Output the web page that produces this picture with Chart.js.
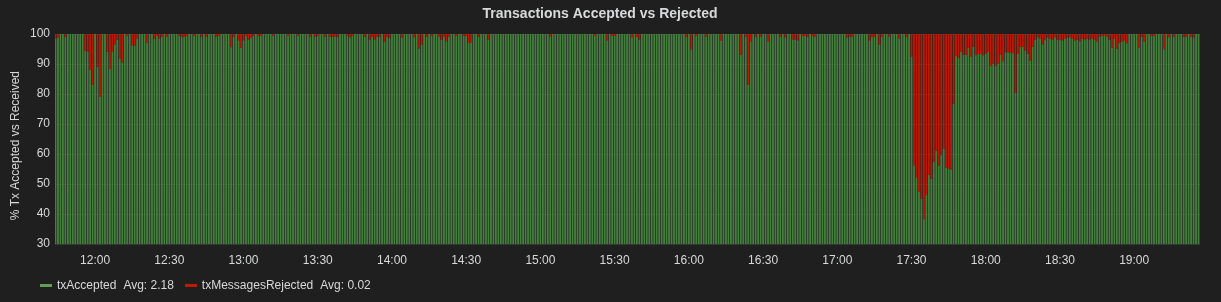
<!DOCTYPE html>
<html>
<head>
<meta charset="utf-8">
<title>Transactions Accepted vs Rejected</title>
<script src="https://cdn.jsdelivr.net/npm/chart.js@4.4.1/dist/chart.umd.min.js"></script>
<style>
  html, body { margin: 0; padding: 0; background: #1f1f1f; }
  #wrap { position: relative; width: 1221px; height: 302px; }
  #txChart { display: block; }
  .legend { position: absolute; left: 40px; top: 278px; display: flex; align-items: center;
    font: 12px "Liberation Sans", Arial, sans-serif; line-height: 14px; color: #d8d9da; white-space: nowrap; }
  .legend .icon { width: 12px; height: 3px; margin-right: 5px; }
  .legend .avg { margin-left: 7px; margin-right: 11px; }
</style>
</head>
<body>
<div id="wrap">
  <canvas id="txChart" width="1221" height="302"></canvas>
  <div class="legend" id="legend"></div>
</div>
<script>
// one bar per minute, first bar at 11:44
const startMinute = 11 * 60 + 44;

const tickLabels = ['12:00', '12:30', '13:00', '13:30', '14:00', '14:30', '15:00', '15:30',
  '16:00', '16:30', '17:00', '17:30', '18:00', '18:30', '19:00'];

const seriesNames = ['txAccepted', 'txMessagesRejected'];
const seriesAvg = ['2.18', '0.02'];
const seriesColors = ['#447f3d', '#bd1a04'];
const legendColors = ['#629e51', '#bf1b00'];

// % of received transactions that were accepted
const acceptedPct = [
  98.5,98.7,100,100,99.0,100,100,100,100,100,100,100,94.3,94.0,88.0,83.0,100,89.0,79.0,100,
  100,94.0,88.3,94.2,96.5,98.2,91.8,90.5,100,99.3,100,96.2,96.2,98.4,100,100,100,97.0,100,100,
  98.4,99.3,98.4,99.1,100,99.1,100,100,100,100,99.3,99.1,99.0,99.3,100,100,99.3,100,100,99.1,
  100,99.1,100,100,100,99.1,99.3,100,100,100,100,95.6,99.1,100,97.8,95.3,97.8,99.3,98.2,98.7,
  99.3,100,99.3,99.3,100,100,100,100,99.3,100,100,100,100,100,99.3,100,100,100,99.4,100,
  100,100,100,99.1,100,99.1,99.3,100,100,99.1,100,99.1,99.1,99.1,99.1,100,100,100,99.3,98.8,
  99.3,100,100,100,100,99.1,100,98.2,99.1,98.2,99.1,99.1,100,97.4,99.1,98.7,100,100,100,100,
  98.7,100,100,100,100,98.9,100,95.2,96.4,100,99.1,100,99.3,100,100,99.1,98.0,99.1,97.6,99.1,
  100,100,99.3,100,100,99.3,99.3,97.0,97.0,100,100,99.1,100,100,100,98.0,100,100,100,100,
  100,100,100,100,100,100,100,100,100,100,100,100,100,100,100,100,100,100,100,100,
  99.0,100,100,100,100,100,100,100,100,100,100,100,100,100,100,100,100,100,99.3,100,
  100,100,100,97.8,100,99.3,99.3,100,100,100,100,100,100,98.8,100,99.0,98.2,100,100,100,
  100,100,100,100,100,100,100,100,100,100,100,100,100,100,100,99.0,100,94.8,100,99.3,
  100,100,100,99.1,100,100,100,100,100,97.7,100,100,100,100,100,100,100,93.1,100,99.1,
  83.0,97.5,100,99.1,100,99.1,100,100,97.4,100,100,100,100,99.1,100,98.9,100,100,98.2,98.2,
  97.8,100,99.3,99.3,99.1,100,99.3,99.1,100,100,100,100,100,100,100,100,100,100,100,100,
  98.8,99.1,99.1,100,100,100,100,100,100,97.8,99.1,99.1,100,96.4,99.1,100,100,99.1,100,100,
  100,98.4,100,100,99.1,100,92.4,56.2,52.1,47.4,45.1,38.3,46.3,53.1,51.7,57.4,61.1,56.1,59.6,61.8,
  55.4,55.1,54.8,76.7,92.7,92.0,94.0,93.1,93.1,95.4,92.4,95.7,92.9,93.3,93.3,92.9,93.3,94.0,89.3,90.2,
  89.3,90.2,93.1,90.9,93.8,93.9,93.8,93.6,80.3,93.3,95.7,95.7,94.4,93.3,91.1,95.7,98.0,98.9,98.4,96.6,
  98.0,98.8,98.3,98.2,98.9,98.0,98.2,97.8,98.4,98.7,98.9,98.4,97.8,98.0,97.6,98.4,98.2,98.4,98.2,98.4,
  98.2,97.4,99.2,99.4,99.6,99.1,98.2,95.4,98.4,95.1,96.9,97.3,97.8,96.9,100,100,100,100,95.4,99.1,
  97.4,100,100,99.3,99.3,100,100,100,94.9,100,98.9,100,99.1,100,100,100,99.1,99.1,100,99.1,
  98.9,100,100
];

// % of received transactions that were rejected
const rejectedPct = [
  1.5,1.3,0,0,1.0,0,0,0,0,0,0,0,5.7,6.0,12.0,17.0,0,11.0,21.0,0,
  0,6.0,11.7,5.8,3.5,1.8,8.2,9.5,0,0.7,0,3.8,3.8,1.6,0,0,0,3.0,0,0,
  1.6,0.7,1.6,0.9,0,0.9,0,0,0,0,0.7,0.9,1.0,0.7,0,0,0.7,0,0,0.9,
  0,0.9,0,0,0,0.9,0.7,0,0,0,0,4.4,0.9,0,2.2,4.7,2.2,0.7,1.8,1.3,
  0.7,0,0.7,0.7,0,0,0,0,0.7,0,0,0,0,0,0.7,0,0,0,0.6,0,
  0,0,0,0.9,0,0.9,0.7,0,0,0.9,0,0.9,0.9,0.9,0.9,0,0,0,0.7,1.2,
  0.7,0,0,0,0,0.9,0,1.8,0.9,1.8,0.9,0.9,0,2.6,0.9,1.3,0,0,0,0,
  1.3,0,0,0,0,1.1,0,4.8,3.6,0,0.9,0,0.7,0,0,0.9,2.0,0.9,2.4,0.9,
  0,0,0.7,0,0,0.7,0.7,3.0,3.0,0,0,0.9,0,0,0,2.0,0,0,0,0,
  0,0,0,0,0,0,0,0,0,0,0,0,0,0,0,0,0,0,0,0,
  1.0,0,0,0,0,0,0,0,0,0,0,0,0,0,0,0,0,0,0.7,0,
  0,0,0,2.2,0,0.7,0.7,0,0,0,0,0,0,1.2,0,1.0,1.8,0,0,0,
  0,0,0,0,0,0,0,0,0,0,0,0,0,0,0,1.0,0,5.2,0,0.7,
  0,0,0,0.9,0,0,0,0,0,2.3,0,0,0,0,0,0,0,6.9,0,0.9,
  17.0,2.5,0,0.9,0,0.9,0,0,2.6,0,0,0,0,0.9,0,1.1,0,0,1.8,1.8,
  2.2,0,0.7,0.7,0.9,0,0.7,0.9,0,0,0,0,0,0,0,0,0,0,0,0,
  1.2,0.9,0.9,0,0,0,0,0,0,2.2,0.9,0.9,0,3.6,0.9,0,0,0.9,0,0,
  0,1.6,0,0,0.9,0,7.6,43.8,47.9,52.6,54.9,61.7,53.7,46.9,48.3,42.6,38.9,43.9,40.4,38.2,
  44.6,44.9,45.2,23.3,7.3,8.0,6.0,6.9,6.9,4.6,7.6,4.3,7.1,6.7,6.7,7.1,6.7,6.0,10.7,9.8,
  10.7,9.8,6.9,9.1,6.2,6.1,6.2,6.4,19.7,6.7,4.3,4.3,5.6,6.7,8.9,4.3,2.0,1.1,1.6,3.4,
  2.0,1.2,1.7,1.8,1.1,2.0,1.8,2.2,1.6,1.3,1.1,1.6,2.2,2.0,2.4,1.6,1.8,1.6,1.8,1.6,
  1.8,2.6,0.8,0.6,0.4,0.9,1.8,4.6,1.6,4.9,3.1,2.7,2.2,3.1,0,0,0,0,4.6,0.9,
  2.6,0,0,0.7,0.7,0,0,0,5.1,0,1.1,0,0.9,0,0,0,0.9,0.9,0,0.9,
  1.1,0,0
];

const FONT = '"Liberation Sans", Arial, sans-serif';
const TEXT = '#d8d9da';
const GRID = 'rgba(255, 255, 255, 0.11)';

const toMinutes = s => { const [h, m] = s.split(':').map(Number); return h * 60 + m; };
const fmtTime = v => String(Math.floor(v / 60)).padStart(2, '0') + ':' + String(v % 60).padStart(2, '0');
const barMinutes = rejectedPct.map((_, i) => startMinute + i);

const seriesData = [acceptedPct, rejectedPct];

new Chart(document.getElementById('txChart'), {
  type: 'bar',
  data: {
    datasets: seriesNames.map((name, k) => ({
      label: name,
      data: seriesData[k].map((v, i) => ({ x: barMinutes[i], y: v })),
      backgroundColor: seriesColors[k],
      borderWidth: 0,
      barPercentage: 0.74,
      categoryPercentage: 1
    }))
  },
  options: {
    responsive: false,
    animation: false,
    layout: { padding: { left: 0, right: 21, top: 0, bottom: 0 } },
    plugins: {
      legend: { display: false },
      tooltip: { enabled: false },
      title: {
        display: true,
        text: 'Transactions Accepted vs Rejected',
        color: TEXT,
        font: { family: FONT, size: 14, weight: 'bold' },
        padding: { top: 6, bottom: 11.2 }
      }
    },
    scales: {
      x: {
        type: 'linear',
        stacked: true,
        offset: false,
        min: startMinute - 0.2,
        max: startMinute + 462.6,
        z: 1,
        border: { display: false },
        grid: { color: GRID, drawTicks: false },
        ticks: {
          color: TEXT, font: { family: FONT, size: 12 }, padding: 9,
          maxRotation: 0, autoSkip: false,
          callback: v => fmtTime(v)
        },
        afterBuildTicks: scale => { scale.ticks = tickLabels.map(t => ({ value: toMinutes(t) })); },
        afterFit: scale => { scale.height = 58; }
      },
      y: {
        stacked: true,
        min: 30,
        max: 100,
        z: 1,
        border: { display: false },
        grid: { color: GRID, drawTicks: false },
        ticks: { stepSize: 10, color: TEXT, font: { family: FONT, size: 12 }, padding: 5 },
        title: {
          display: true,
          // trailing spaces nudge the rotated label down to where grafana put it
          text: '% Tx Accepted vs Received    ',
          color: TEXT,
          font: { family: FONT, size: 12 },
          padding: { top: 8, bottom: 0 }
        },
        afterFit: scale => { scale.width = 55; }
      }
    }
  }
});

// grafana style legend with averages
const legendEl = document.getElementById('legend');
seriesNames.forEach((name, k) => {
  legendEl.insertAdjacentHTML('beforeend',
    `<span class="icon" style="background:${legendColors[k]}"></span>` +
    `<span class="name">${name}</span><span class="avg">Avg: ${seriesAvg[k]}</span>`);
});
</script>
</body>
</html>
